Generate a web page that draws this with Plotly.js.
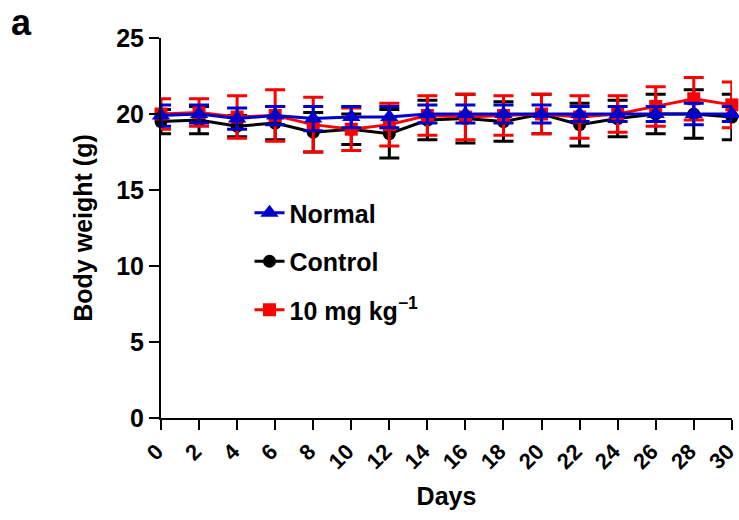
<!DOCTYPE html>
<html>
<head>
<meta charset="utf-8">
<script src="https://cdn.plot.ly/plotly-3.0.1.min.js"></script>
<style>html,body{margin:0;padding:0;background:#fff;}#chart{width:739px;height:520px;}</style>
</head>
<body>
<div id="chart"></div>
<script>
const days = [0, 2, 4, 6, 8, 10, 12, 14, 16, 18, 20, 22, 24, 26, 28, 30];
const normalMean = [19.9, 20.0, 19.7, 19.9, 19.7, 19.8, 19.8, 20.0, 20.0, 20.0, 20.0, 20.0, 20.0, 20.0, 20.0, 20.0];
const normalErr  = [0.7, 0.6, 0.7, 0.6, 0.8, 0.7, 0.7, 0.6, 0.6, 0.6, 0.6, 0.5, 0.5, 0.5, 0.7, 0.5];
const controlMean = [19.5, 19.6, 19.2, 19.4, 18.8, 19.0, 18.7, 19.6, 19.7, 19.5, 20.0, 19.3, 19.7, 20.0, 20.0, 19.8];
const controlErr  = [0.8, 0.9, 0.7, 1.1, 1.3, 1.0, 1.6, 1.3, 1.6, 1.3, 1.3, 1.4, 1.2, 1.3, 1.6, 1.5];
const doseMean = [20.0, 20.1, 19.8, 19.9, 19.3, 19.0, 19.3, 19.9, 19.8, 19.9, 20.0, 19.8, 20.0, 20.5, 21.0, 20.6];
const doseErr  = [1.0, 0.9, 1.4, 1.7, 1.8, 1.4, 1.4, 1.3, 1.5, 1.3, 1.3, 1.4, 1.2, 1.3, 1.4, 1.5];
const xTicks = [0, 2, 4, 6, 8, 10, 12, 14, 16, 18, 20, 22, 24, 26, 28, 30];
const yTicks = [0, 5, 10, 15, 20, 25];

const FONT = 'Arial, "Liberation Sans", Helvetica, sans-serif';

function series(name, y, err, color, symbol, size, rank, group) {
  return {
    x: days, y: y, name: name, type: 'scatter', mode: 'lines+markers',
    legendrank: rank, legendgroup: group,
    line: {color: color, width: 3},
    marker: {color: color, symbol: symbol, size: size},
    error_y: {type: 'data', array: err, visible: true, color: color, thickness: 3, width: 10},
    cliponaxis: false
  };
}

const data = [
  series('Control', controlMean, controlErr, '#000000', 'circle', 13, 2, 'b'),
  series('10 mg kg<sup>−1</sup>', doseMean, doseErr, '#ff0000', 'square', 13, 3, 'c'),
  series('Normal', normalMean, normalErr, '#0000cc', 'triangle-up', 16, 1, 'a')
];

const layout = {
  width: 739, height: 520,
  margin: {l: 161, r: 7, t: 38, b: 102},
  paper_bgcolor: '#ffffff', plot_bgcolor: '#ffffff',
  font: {family: FONT, color: '#000000', size: 24},
  showlegend: true,
  legend: {
    x: 0.155, y: 0.6, xanchor: 'left', yanchor: 'top',
    bgcolor: 'rgba(0,0,0,0)',
    font: {family: FONT, size: 25, color: '#000', weight: 'bold'},
    traceorder: 'grouped', tracegroupgap: 13
  },
  xaxis: {
    range: [0, 30.01], tickmode: 'array', tickvals: xTicks, ticktext: xTicks.map(String),
    showline: true, linecolor: '#000', linewidth: 2, zeroline: false, showgrid: false,
    ticks: 'outside', ticklen: 10, tickwidth: 2, tickcolor: '#000',
    tickangle: -45, ticklabeloverflow: 'allow', ticklabelshift: -4,
    tickfont: {family: FONT, size: 22, weight: 'bold'},
    title: {text: '<b>Days</b>', font: {family: FONT, size: 25}, standoff: 14}
  },
  yaxis: {
    range: [0, 25], tickmode: 'array', tickvals: yTicks, ticktext: yTicks.map(String),
    showline: true, linecolor: '#000', linewidth: 2, zeroline: false, showgrid: false,
    ticks: 'outside', ticklen: 10, tickwidth: 2, tickcolor: '#000',
    tickfont: {family: FONT, size: 25, weight: 'bold'},
    title: {text: '<b>Body weight (g)</b>', font: {family: FONT, size: 25}, standoff: 16}
  },
  annotations: [{
    text: '<b>a</b>', xref: 'paper', yref: 'paper', x: -152/571, y: 1 + 38/380,
    xanchor: 'left', yanchor: 'top', showarrow: false,
    font: {family: FONT, size: 36, color: '#000'}
  }]
};

Plotly.newPlot('chart', data, layout, {staticPlot: true, displayModeBar: false});
</script>
</body>
</html>
